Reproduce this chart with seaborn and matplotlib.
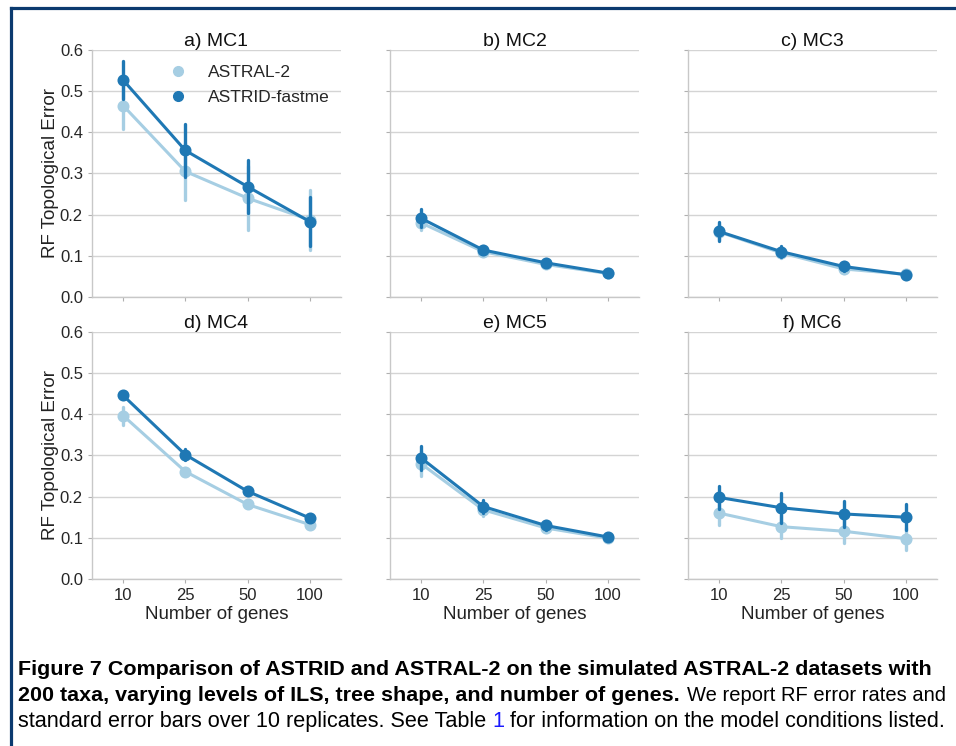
import numpy as np
import pandas as pd
import matplotlib
matplotlib.use("Agg")
import matplotlib.pyplot as plt
import seaborn as sns
from matplotlib.lines import Line2D
from matplotlib import font_manager

# ---------------- data ----------------
genes = ["10", "25", "50", "100"]
panels = ["a) MC1", "b) MC2", "c) MC3", "d) MC4", "e) MC5", "f) MC6"]
methods = ["ASTRAL-2", "ASTRID-fastme"]

astral2_mean = [
    [0.465, 0.305, 0.240, 0.187],
    [0.180, 0.110, 0.079, 0.057],
    [0.158, 0.107, 0.068, 0.055],
    [0.397, 0.261, 0.181, 0.132],
    [0.280, 0.168, 0.124, 0.099],
    [0.160, 0.127, 0.116, 0.098],
]
astral2_se = [
    [0.057, 0.070, 0.078, 0.073],
    [0.018, 0.010, 0.007, 0.004],
    [0.020, 0.012, 0.010, 0.008],
    [0.022, 0.008, 0.005, 0.005],
    [0.030, 0.014, 0.010, 0.006],
    [0.030, 0.028, 0.029, 0.027],
]
astrid_mean = [
    [0.527, 0.356, 0.268, 0.183],
    [0.191, 0.114, 0.083, 0.058],
    [0.159, 0.110, 0.074, 0.054],
    [0.446, 0.302, 0.213, 0.148],
    [0.294, 0.176, 0.130, 0.102],
    [0.198, 0.173, 0.158, 0.150],
]
astrid_se = [
    [0.046, 0.065, 0.065, 0.060],
    [0.022, 0.010, 0.008, 0.004],
    [0.022, 0.013, 0.010, 0.010],
    [0.009, 0.013, 0.008, 0.006],
    [0.030, 0.015, 0.011, 0.007],
    [0.029, 0.036, 0.031, 0.031],
]

caption_line1 = "Figure 7 Comparison of ASTRID and ASTRAL-2 on the simulated ASTRAL-2 datasets with"
caption_line2_bold = "200 taxa, varying levels of ILS, tree shape, and number of genes."
caption_line2_norm = "We report RF error rates and"
caption_line3_a = "standard error bars over 10 replicates. See Table "
caption_line3_link = "1"
caption_line3_b = " for information on the model conditions listed."

# Long table: mean +/- standard error per point; estimator mean, error bar = range
rows = []
for p, panel in enumerate(panels):
    for method, means, ses in ((methods[0], astral2_mean, astral2_se),
                               (methods[1], astrid_mean, astrid_se)):
        for g, m, s in zip(genes, means[p], ses[p]):
            rows.append((panel, method, g, m - s))
            rows.append((panel, method, g, m + s))
df = pd.DataFrame(rows, columns=["panel", "method", "genes", "rf"])

# ---------------- style ----------------
sns.set_theme(style="whitegrid", rc={
    "axes.edgecolor": "#c8c8c8",
    "grid.color": "#d4d4d4",
    "grid.linewidth": 1.0,
    "axes.linewidth": 1.0,
    "xtick.bottom": True,
    "ytick.left": True,
    "xtick.color": "#b0b0b0",
    "ytick.color": "#b0b0b0",
    "xtick.labelcolor": "#262626",
    "ytick.labelcolor": "#262626",
    "xtick.major.size": 3,
    "ytick.major.size": 3,
    "xtick.major.width": 0.8,
    "ytick.major.width": 0.8,
})
plt.rcParams["font.family"] = ["Liberation Sans", "DejaVu Sans"]

palette = sns.color_palette("Paired", 2)

fig, axes = plt.subplots(2, 3, figsize=(9.56, 7.46), dpi=100, sharex=True, sharey=True)
fig.subplots_adjust(left=0.0962, right=0.9801, top=0.933, bottom=0.2239,
                    wspace=0.197, hspace=0.142)

for p, (ax, panel) in enumerate(zip(axes.flat, panels)):
    sub = df[df["panel"] == panel]
    sns.pointplot(data=sub, x="genes", y="rf", hue="method", order=genes,
                  hue_order=methods, palette=palette, estimator="mean",
                  errorbar=lambda v: (v.min(), v.max()),
                  markers="o", markersize=7, linewidth=2.2,
                  err_kws={"linewidth": 2.4}, ax=ax, legend=False)
    ax.set_ylim(0, 0.6)
    ax.set_yticks(np.arange(0, 0.61, 0.1))
    ax.yaxis.set_major_formatter(matplotlib.ticker.FormatStrFormatter("%.1f"))
    ax.grid(axis="x", visible=False)
    ax.grid(axis="y", visible=True)
    for s in ("top", "right"):
        ax.spines[s].set_visible(False)
    ax.set_title(panel, fontsize=14, pad=3, color="#111111")
    ax.tick_params(axis="both", labelsize=12)
    ax.set_xlabel("Number of genes" if p >= 3 else "", fontsize=13.5, color="#222222",
                  labelpad=2)
    ax.set_ylabel("RF Topological Error" if p % 3 == 0 else "", fontsize=13.5,
                  color="#222222", labelpad=0.5)

handles = [Line2D([], [], linestyle="", marker="o", markersize=7, color=c) for c in palette]
axes[0, 0].legend(handles, methods, loc="upper left", bbox_to_anchor=(0.278, 0.94),
                  frameon=False, fontsize=12.5, borderpad=0, borderaxespad=0,
                  handlelength=1.9, handletextpad=0.8, labelspacing=0.55)

# ---------------- frame ----------------
frame_col = "#0b3a6f"
fig.add_artist(Line2D([11 / 956, 11 / 956], [0.0, 1 - 8 / 746], transform=fig.transFigure,
                      color=frame_col, linewidth=2.3, solid_capstyle="projecting"))
fig.add_artist(Line2D([11 / 956, 1.0], [1 - 8 / 746, 1 - 8 / 746], transform=fig.transFigure,
                      color=frame_col, linewidth=2.3, solid_capstyle="projecting"))

# ---------------- caption ----------------
names = {f.name for f in font_manager.fontManager.ttflist}
capfam = ["Liberation Sans Narrow", "DejaVu Sans"] if "Liberation Sans Narrow" in names \
    else ["Liberation Sans", "DejaVu Sans"]

renderer = fig.canvas.get_renderer()
W = fig.bbox.width


def fit(t, target):
    w = t.get_window_extent(renderer).width
    t.set_fontsize(t.get_fontsize() * target / w)
    return t.get_fontsize()


def after(t, gap=0.0):
    return (t.get_window_extent(renderer).x1 + gap) / W


x0 = 18 / 956
t1 = fig.text(x0, 1 - 675 / 746, caption_line1, fontsize=13, fontweight="bold",
              family=capfam, va="baseline", color="black")
bold_size = fit(t1, 910)

t3a = fig.text(x0, 1 - 727 / 746, caption_line3_a + caption_line3_link + caption_line3_b,
               fontsize=13, family=capfam, va="baseline", color="black")
norm_size = fit(t3a, 927)
t3a.set_text(caption_line3_a)

t3l = fig.text(after(t3a), 1 - 727 / 746, caption_line3_link, fontsize=norm_size,
               family=capfam, va="baseline", color="#1a1aff")
fig.text(after(t3l), 1 - 727 / 746, caption_line3_b, fontsize=norm_size,
         family=capfam, va="baseline", color="black")

t2a = fig.text(x0, 1 - 701 / 746, caption_line2_bold, fontsize=bold_size, fontweight="bold",
               family=capfam, va="baseline", color="black")
x2 = after(t2a, 7)
t2b = fig.text(x2, 1 - 701 / 746, caption_line2_norm, fontsize=norm_size,
               family=capfam, va="baseline", color="black")
fit(t2b, 945 - x2 * W)

fig.savefig("out.png", dpi=100)
